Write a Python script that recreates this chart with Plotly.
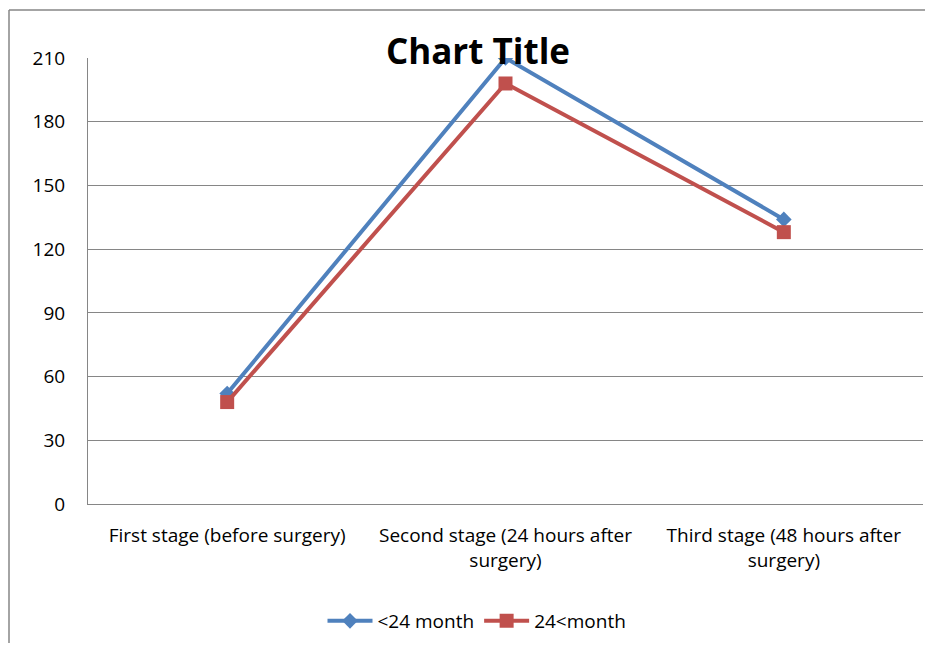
import plotly.graph_objects as go

categories = ["First stage (before surgery)",
              "Second stage (24 hours after<br>surgery)",
              "Third stage (48 hours after<br>surgery)"]
series_names = ["<24 month", "24<month"]
under24 = [52, 210, 134]
over24 = [48, 198, 128]
y_ticks = [0, 30, 60, 90, 120, 150, 180, 210]

FONT = "Open Sans, Noto Sans, DejaVu Sans, sans-serif"
GRID = "#868686"

# page has an 8px body margin; figure sized to fit the window
W, H = 917, 635
L, T, R_EDGE, B_EDGE = 80, 50, 915, 496

fig = go.Figure()
fig.add_trace(go.Scatter(
    x=categories, y=under24, name=series_names[0], mode="lines+markers",
    line=dict(color="#4F81BD", width=4),
    marker=dict(symbol="diamond", size=12, color="#4F81BD"),
))
fig.add_trace(go.Scatter(
    x=categories, y=over24, name=series_names[1], mode="lines+markers",
    line=dict(color="#C0504D", width=4),
    marker=dict(symbol="square", size=14, color="#C0504D"),
))

pw = R_EDGE - L
ph = B_EDGE - T
bx = (1 - L) / pw
by = (B_EDGE - 2) / ph

fig.update_layout(
    width=W, height=H,
    margin=dict(l=L, r=W - R_EDGE, t=T, b=H - B_EDGE, pad=0),
    paper_bgcolor="white", plot_bgcolor="white",
    font=dict(family=FONT, size=19, color="#000000"),
    title=dict(text="<b>Chart Title</b>", x=470 / W, xanchor="center",
               y=1 - 44 / H, yanchor="middle", yref="container",
               font=dict(family=FONT, size=35, color="#000000")),
    xaxis=dict(type="category", range=[-0.5, 2.5], showgrid=False,
               showline=True, linecolor=GRID, linewidth=1,
               ticks="", ticklabelstandoff=14, tickfont=dict(size=19)),
    yaxis=dict(range=[0, 210], tickvals=y_ticks, showgrid=True,
               gridcolor=GRID, gridwidth=1, showline=True, linecolor=GRID,
               linewidth=1, ticks="", ticklabelstandoff=18, zeroline=False,
               tickfont=dict(size=19)),
    legend=dict(orientation="h", x=(469 - L) / pw, xanchor="center",
                y=(B_EDGE - 613) / ph, yanchor="middle",
                font=dict(size=19), itemwidth=45, tracegroupgap=0),
    shapes=[
        dict(type="line", xref="paper", yref="paper",
             x0=bx, x1=1.1, y0=by, y1=by,
             line=dict(color=GRID, width=1.5), layer="below"),
        dict(type="line", xref="paper", yref="paper",
             x0=bx, x1=bx, y0=by, y1=-0.4,
             line=dict(color=GRID, width=1.5), layer="below"),
    ],
)

fig.write_html("out.html")
